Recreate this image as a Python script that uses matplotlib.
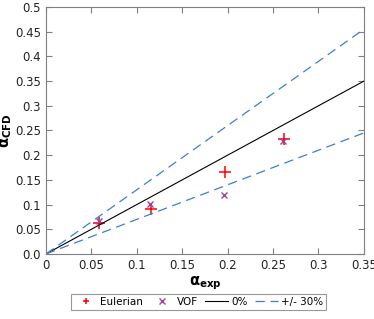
import matplotlib
matplotlib.use('Agg')
import matplotlib.pyplot as plt
import numpy as np

plt.rcParams['font.family'] = 'DejaVu Sans'
plt.rcParams['font.size'] = 8.5

### data ###
eul_x = [0.058, 0.116, 0.197, 0.262]
eul_y = [0.063, 0.091, 0.165, 0.233]
vof_x = [0.058, 0.115, 0.196, 0.261]
vof_y = [0.067, 0.101, 0.119, 0.229]
line_x = np.array([0.0, 0.35])

fig = plt.figure(figsize=(3.74, 3.19), dpi=100)
ax = fig.add_axes([0.123, 0.204, 0.850, 0.774])

ax.plot(eul_x, eul_y, '+', color='#ff0000', ms=8, mew=1.1, label='Eulerian')
ax.plot(vof_x, vof_y, 'x', color='#a0409a', ms=5, mew=1.0, label='VOF')
ax.plot(line_x, line_x, color='black', lw=0.8, label='0%')
ax.plot(line_x, 1.3*line_x, '--', color='#3a7fd5', lw=0.9, dashes=(7.5, 4.5), label='+/- 30%')
ax.plot(line_x, 0.7*line_x, '--', color='#3a7fd5', lw=0.9, dashes=(7.5, 4.5))

ax.set_xlim(0, 0.35)
ax.set_ylim(0, 0.5)
ax.set_xticks(np.arange(0, 0.351, 0.05))
ax.set_xticklabels(['0', '0.05', '0.1', '0.15', '0.2', '0.25', '0.3', '0.35'])
ax.set_yticks(np.arange(0, 0.501, 0.05))
ax.set_yticklabels(['0.0', '0.05', '0.1', '0.15', '0.2', '0.25', '0.3', '0.35', '0.4', '0.45', '0.5'])
ax.tick_params(axis='both', direction='in', top=True, right=True, length=4, color='#808080', labelcolor='#222222')
for s in ax.spines.values():
    s.set_color('#808080')

ax.set_xlabel(r'$\mathbf{\alpha}_{\mathbf{exp}}$', fontsize=10.5, labelpad=2)
ax.set_ylabel(r'$\mathbf{\alpha}_{\mathbf{CFD}}$', fontsize=10.5, labelpad=1)

leg = ax.legend(loc='upper center', bbox_to_anchor=(0.48, -0.14), ncol=4, frameon=True,
                fancybox=False, edgecolor='#808080', fontsize=7.5, handlelength=2.2,
                columnspacing=0.7, handletextpad=0.3, borderpad=0.3, markerscale=0.8)
leg.get_frame().set_linewidth(0.8)
# smaller markers in the legend
for h in leg.legend_handles[:2]:
    h.set_markersize(5)

plt.savefig('out.png', dpi=100)
